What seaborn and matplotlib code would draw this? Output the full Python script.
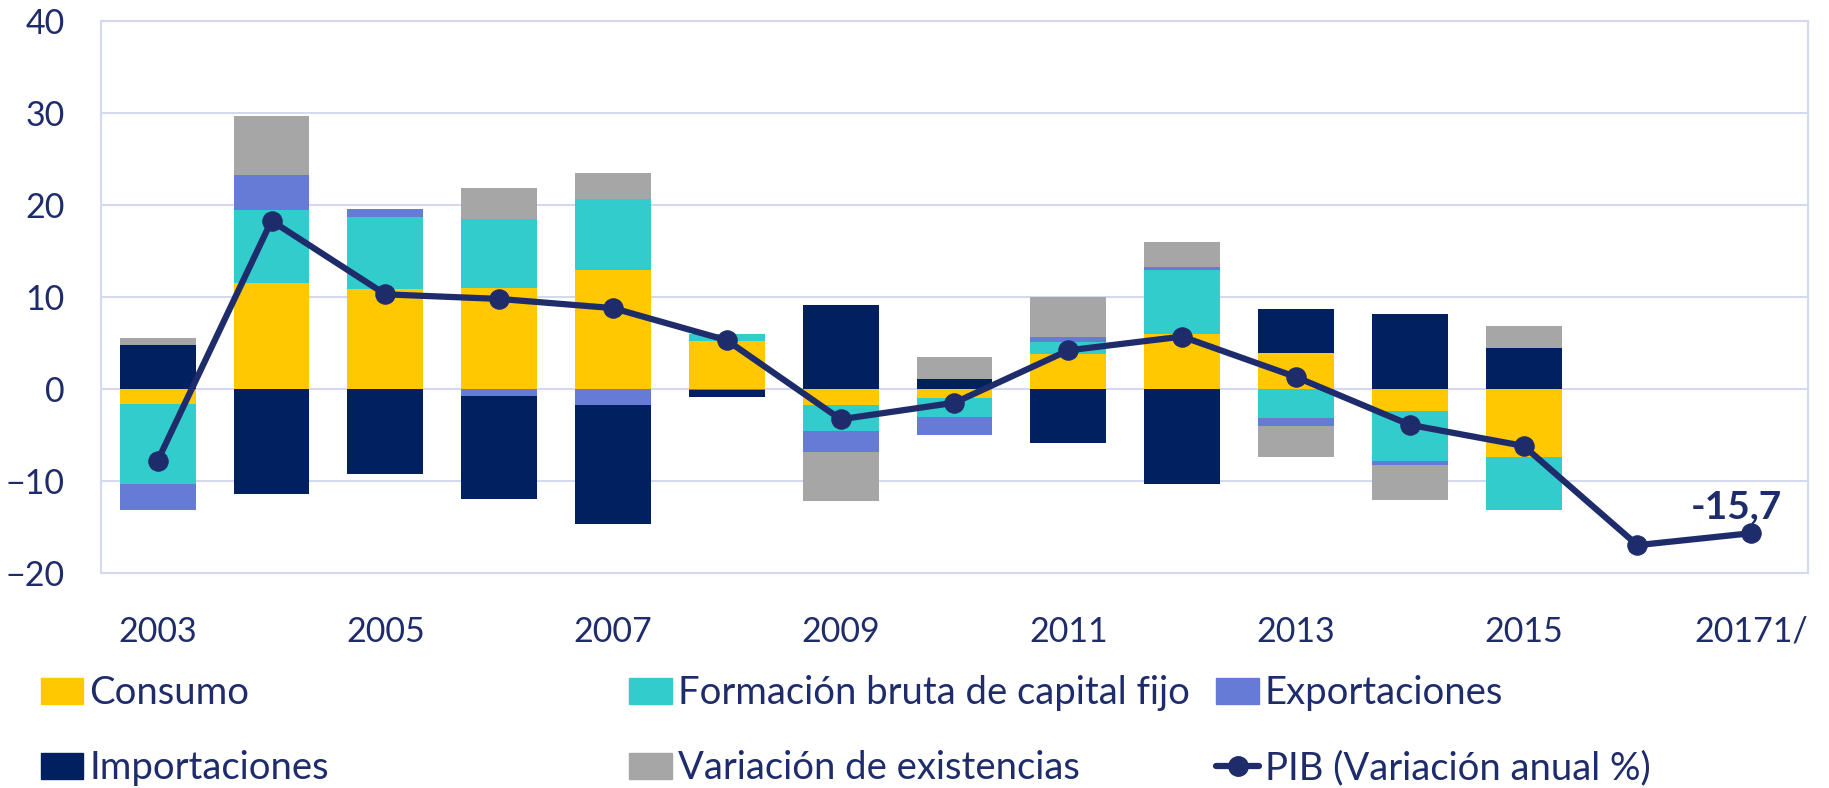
import numpy as np
import pandas as pd
import seaborn as sns
import matplotlib.pyplot as plt
from matplotlib.patches import Patch
from matplotlib.lines import Line2D

sns.set_theme(style='white')
plt.rcParams['font.family'] = ['Lato', 'DejaVu Sans']

# data (contribution to GDP growth, pp)
years = ['2003', '2004', '2005', '2006', '2007', '2008', '2009', '2010',
         '2011', '2012', '2013', '2014', '2015', '2016', '20171/']
consumo = [-1.6, 11.5, 10.9, 11.0, 13.0, 5.2, -1.8, -1.0, 3.8, 6.0, 3.9, -2.4, -7.4, 0, 0]
fbkf = [-8.7, 8.0, 7.8, 7.5, 7.7, 0.8, -2.8, -2.0, 1.3, 7.0, -3.2, -5.4, -5.8, 0, 0]
exportaciones = [-2.9, 3.8, 0.9, -0.8, -1.7, -0.15, -2.3, -2.0, 0.6, 0.25, -0.8, -0.5, 0, 0, 0]
importaciones = [4.8, -11.4, -9.3, -11.2, -13.0, -0.7, 9.1, 1.1, -5.9, -10.3, 4.8, 8.2, 4.5, 0, 0]
existencias = [0.8, 6.4, 0, 3.4, 2.8, 0, -5.3, 2.4, 4.3, 2.7, -3.4, -3.8, 2.4, 0, 0]
pib = [-7.8, 18.3, 10.3, 9.8, 8.8, 5.3, -3.3, -1.5, 4.2, 5.7, 1.3, -3.9, -6.2, -17.0, -15.7]

series = pd.DataFrame({
    'Consumo': consumo,
    'Formación bruta de capital fijo': fbkf,
    'Exportaciones': exportaciones,
    'Importaciones': importaciones,
    'Variación de existencias': existencias,
}, index=years)
colors = ['#FFC800', '#33CCCC', '#667BD6', '#002060', '#A6A6A6']
navy = '#1F2C6B'
grid_c = '#D3DAF0'

fig = plt.figure(figsize=(18.29, 7.88), dpi=100)
ax = fig.add_axes([0.0551, 0.2732, 0.9335, 0.6996])

x = np.arange(len(years))
pos_bottom = np.zeros(len(years))
neg_bottom = np.zeros(len(years))
for col, c in zip(series.columns, colors):
    vals = series[col].values
    bottom = np.where(vals >= 0, pos_bottom, neg_bottom)
    ax.bar(x, vals, 0.667, bottom=bottom, color=c, linewidth=0, zorder=2)
    pos_bottom += np.clip(vals, 0, None)
    neg_bottom += np.clip(vals, None, 0)

sns.lineplot(x=x, y=pib, ax=ax, color=navy, lw=4.5, marker='o', markersize=14,
             markeredgecolor=navy, zorder=3)
ax.annotate('-15,7', xy=(x[-1], pib[-1]), xytext=(-11, 19), textcoords='offset points',
            ha='center', va='center', fontsize=28, fontweight='bold', color=navy)

ax.set_xlim(-0.5, len(years) - 0.5)
ax.set_ylim(-20, 40)
ax.set_yticks(range(-20, 41, 10))
ax.set_xticks(x[::2])
ax.set_xticklabels(years[::2])
ax.yaxis.grid(True, color=grid_c, lw=1.5, zorder=0)
ax.xaxis.grid(False)
for s in ax.spines.values():
    s.set_color(grid_c)
    s.set_linewidth(1.5)
ax.tick_params(axis='both', length=0, labelsize=24.5, labelcolor=navy)
ax.tick_params(axis='y', pad=26)
ax.tick_params(axis='x', pad=31)

handles = [Patch(color=c, label=l) for c, l in zip(colors, series.columns)]
handles.append(Line2D([], [], color=navy, lw=4.5, marker='o', markersize=14,
                      label='PIB (Variación anual %)'))
cols = [[handles[0], handles[3]], [handles[1], handles[4]], [handles[2], handles[5]]]
for xpos, hs in zip([0.0222, 0.3440, 0.6650], cols):
    fig.legend(handles=hs, loc='center left', bbox_to_anchor=(xpos, 0.0725),
               frameon=False, fontsize=27.5, labelcolor=navy, borderpad=0,
               borderaxespad=0, handlelength=1.12, handleheight=0.64,
               handletextpad=0.15, labelspacing=1.02)

fig.savefig('out.png', dpi=100)
